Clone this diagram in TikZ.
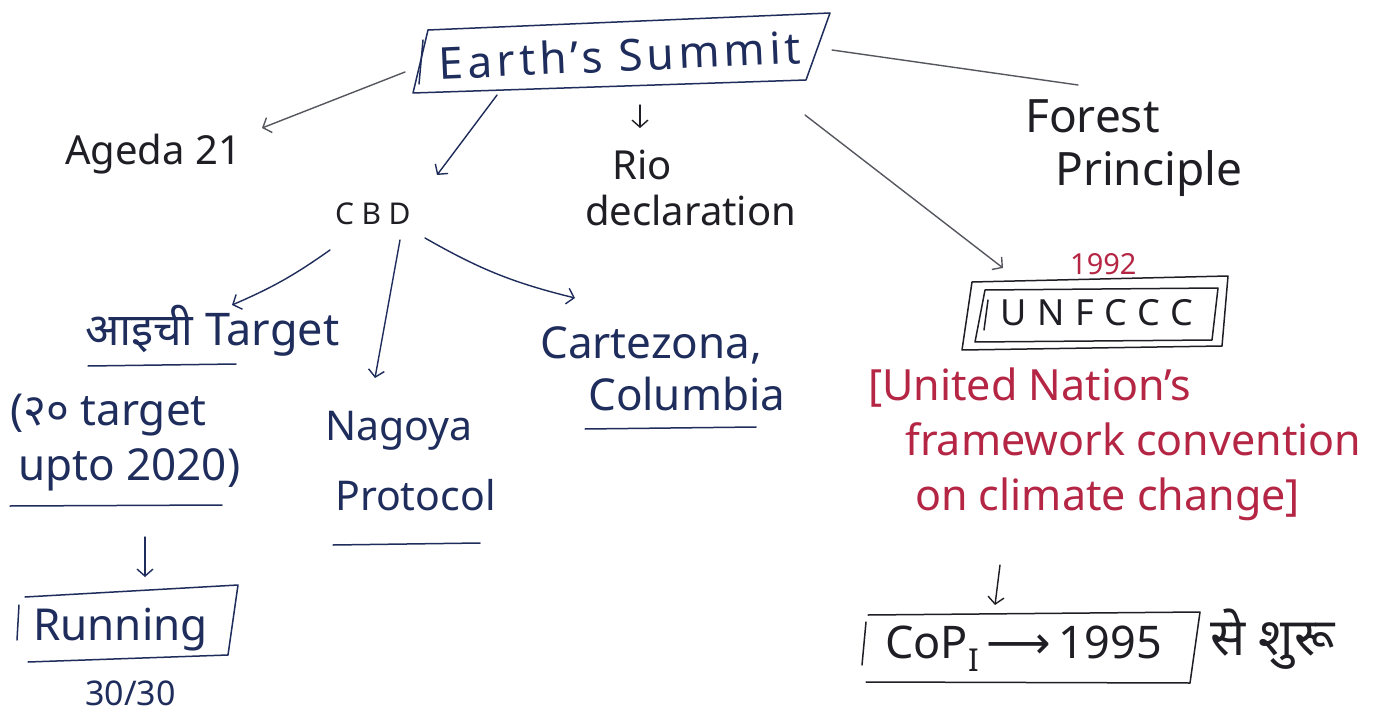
\documentclass[tikz,border=0pt]{standalone}
\usepackage{fontspec}
\setmainfont{Noto Sans}
\newfontfamily\dev[Script=Devanagari]{Noto Sans}
\newfontfamily\djv{DejaVu Sans}
\usetikzlibrary{arrows.meta,calc}
\definecolor{navy}{HTML}{1F2D5C}
\definecolor{ink}{HTML}{1E1E24}
\definecolor{greyink}{HTML}{55575E}
\definecolor{redink}{HTML}{B52645}
\begin{document}
\begin{tikzpicture}[x=1pt,y=-1pt,
  txt/.style={inner sep=0pt, anchor=base west},
  fs/.style={font=\fontsize{#1}{#1}\selectfont},
  conn/.style={line width=1.4pt, line cap=round, -{Straight Barb[length=7pt,width=16pt]}},
  plain/.style={line width=1.4pt, line cap=round},
  boxline/.style={line width=1.5pt, line join=round, line cap=round},
  uline/.style={line width=1.5pt, navy, line cap=round}
]
\useasboundingbox[fill=white] (0,0) rectangle (1378,719);

% ---------- top level
\node[inner sep=0pt, navy, rotate=2.5, font=\fontsize{44}{44}\selectfont\addfontfeatures{LetterSpace=10}] (es) at (620,55) {Earth's Summit};
\draw[boxline, navy] (428,30) -- (830,13) -- (806,80) -- (413,93) -- cycle;
\draw[boxline, navy] (423,40) -- (419,84);

\node[txt, ink, fs=40] (ag) at (65,165) {Ageda 21};
\node[txt, ink, font=\fontsize{30}{30}\selectfont\addfontfeatures{LetterSpace=25}] (cbd) at (335,225) {CBD};
\node[txt, ink, fs=40] (rio1) at (612,180) {Rio};
\node[txt, ink, fs=40] (rio2) at (585,226) {declaration};
\node[txt, ink, fs=46] (fp1) at (1025,133) {Forest};
\node[txt, ink, fs=46] (fp2) at (1055,186) {Principle};

% ---------- CBD children
\node[txt, navy, fs=45] (aichi) at (85,345) {{\dev आइची} Target};
\node[txt, navy, fs=44] (tw1) at (10,425) {({\dev २०} target};
\node[txt, navy, fs=44] (tw2) at (18,480) {upto 2020)};
\node[txt, navy, fs=44] (run) at (33,640) {Running};
\draw[boxline, navy] (25,597) -- (238,585) -- (228,655) -- (28,662);
\draw[boxline, navy] (19,605) -- (17,640);
\node[txt, navy, fs=34] (t30) at (85,705) {30/30};
\node[txt, navy, fs=41] (nag1) at (325,440) {Nagoya};
\node[txt, navy, fs=41] (nag2) at (335,510) {Protocol};
\node[txt, navy, fs=44] (cart1) at (540,358) {Cartezona,};
\node[txt, navy, fs=44] (cart2) at (588,410) {Columbia};

% ---------- UNFCCC side
\node[txt, redink, fs=29] (y92) at (1070,275) {1992};
\node[txt, ink, font=\fontsize{36}{36}\selectfont\addfontfeatures{LetterSpace=30}] (un) at (1000,325) {UNFCCC};
\draw[boxline, ink] (972,282) -- (1228,276) -- (1222,346) -- (962,350) -- cycle;
\draw[boxline, ink] (985,290) -- (1218,288) -- (1212,340) -- (975,342) -- cycle;
\draw[boxline, ink] (988,300) -- (984,330);
\node[txt, redink, fs=43] (full1) at (868,400) {[United Nation's};
\node[txt, redink, fs=43] (full2) at (905,455) {framework convention};
\node[txt, redink, fs=43] (full3) at (915,510) {on climate change]};
\node[txt, ink, fs=45] (cop) at (885,658) {CoP\textsubscript{I}\,{\djv ⟶}\,1995};
\draw[boxline, ink] (868,615) -- (1200,612) -- (1190,683) -- (866,682);
\draw[boxline, ink] (866,622) -- (862,665);
\node[txt, ink, fs=52] (shuru) at (1210,655) {\dev से शुरू};

% ---------- connectors
\draw[conn, greyink] ($(es.center)+(-215,17)$) -- ($(ag.base west)+(197,-37)$);
\draw[conn, navy] ($(es.center)+(-123,40)$) -- ($(cbd.base west)+(102,-50)$);
\draw[conn, ink] ($(es.center)+(20,50)$) -- ($(rio1.base west)+(28,-52)$);
\draw[plain, greyink] ($(es.center)+(212,-5)$) -- ($(fp1.base west)+(53,-48)$);
\draw[conn, greyink] ($(es.center)+(185,60)$) -- ($(un.base west)+(3,-57)$);
\draw[conn, navy] ($(cbd.base west)+(-5,25)$) to[bend left=6] ($(aichi.base west)+(147,-40)$);
\draw[conn, navy] ($(cbd.base west)+(65,15)$) -- ($(nag1.base west)+(50,-62)$);
\draw[conn, navy] ($(cbd.base west)+(90,13)$) to[bend right=8] ($(cart1.base west)+(35,-60)$);
\draw[conn, navy] ($(tw2.base west)+(127,57)$) -- ($(run.base west)+(112,-63)$);
\draw[conn, ink] ($(full3.base west)+(85,55)$) -- ($(cop.base west)+(110,-53)$);

% ---------- underlines
\draw[uline] (88,366) -- (236,364);
\draw[uline] (10,506) -- (222,505);
\draw[uline] (333,545) -- (480,543);
\draw[uline] (585,429) -- (756,427);
\end{tikzpicture}
\end{document}
